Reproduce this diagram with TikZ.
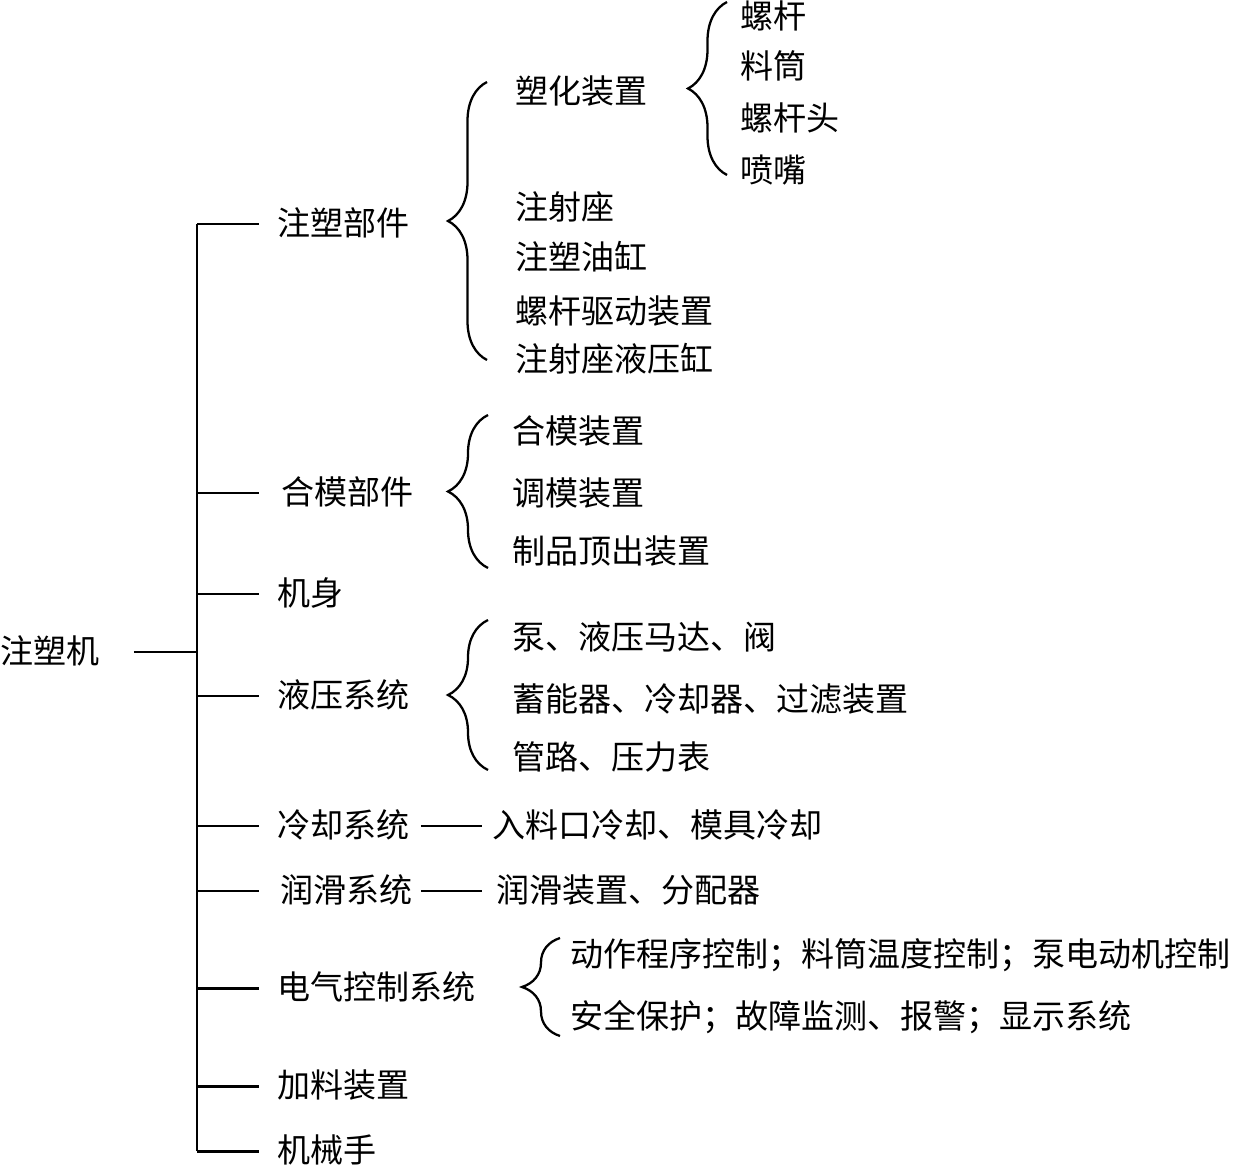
\documentclass[tikz,border=0pt]{standalone}
\usepackage{fontspec}
\setmainfont{Noto Sans CJK SC}
\usepackage{tikz}
\usetikzlibrary{
  positioning,
  decorations.pathreplacing
}

\begin{document}
\begin{tikzpicture}[
  x=0.02cm, y=-0.02cm,
  item/.style={anchor=west, inner sep=0pt, font=\fontsize{18.8}{22}\selectfont, text height=1.3em, text depth=0em},
  trunk/.style={line width=1.7pt},
  joinline/.style={line width=0.9pt},
  brc/.style={decorate, decoration={brace, amplitude=#1}, line width=1.3pt},
]
\useasboundingbox (0,0) rectangle (1233,1168);
\coordinate (tr) at (197,0);

% Wurzel
\node[item] (root) at (0,652) {注塑机};

% Hauptzweige
\node[item] (jsbj) at (277,224) {注塑部件};
\node[item] (hmbj) at (281,493) {合模部件};
\node[item] (js)   at (277,594) {机身};
\node[item] (yyxt) at (277,696) {液压系统};
\node[item] (lqxt) at (277,826) {冷却系统};
\node[item] (rhxt) at (280,891) {润滑系统};
\node[item] (dqkz) at (277,988) {电气控制系统};
\node[item] (jlzz) at (277,1086) {加料装置};
\node[item] (jxs)  at (277,1151) {机械手};

% Stamm
\draw[trunk] ([xshift=0.68cm]root.east) -- (tr |- root.east);
\draw[trunk] (tr |- jsbj.west) -- (tr |- jxs.west);
\foreach \n in {jsbj,hmbj,js,yyxt,lqxt,rhxt,dqkz,jlzz,jxs} {
  \draw[trunk] (tr |- \n.west) -- ++(62,0);
}

%注塑部件
\node[item] (shzz)   at (515,92)  {塑化装置};
\node[item] (jsz)    at (515,208) {注射座};
\node[item] (jsyg)   at (515,258) {注塑油缸};
\node[item] (lgqd)   at (515,312) {螺杆驱动装置};
\node[item] (jszyyg) at (515,360) {注射座液压缸};
\draw[brc=0.78cm] (487,360) -- (487,82);

\node[item] (lg)  at (740,17)  {螺杆};
\node[item] (lt)  at (740,67)  {料筒};
\node[item] (lgt) at (740,119) {螺杆头};
\node[item] (pz)  at (740,171) {喷嘴};
\draw[brc=0.78cm] (727,175) -- (727,2);

% 合模部件
\node[item] (hmzz) at (512,432) {合模装置};
\node[item] (tmzz) at (512,494) {调模装置};
\node[item] (zpdc) at (512,552) {制品顶出装置};
\draw[brc=0.8cm] (488,568) -- (488,415);

% 液压系统
\node[item] (yy1) at (512,638) {泵、液压马达、阀};
\node[item] (yy2) at (512,700) {蓄能器、冷却器、过滤装置};
\node[item] (yy3) at (512,758) {管路、压力表};
\draw[brc=0.8cm] (488,770) -- (488,620);

% 冷却, 润滑
\node[item] (lqnr) at (492,826) {入料口冷却、模具冷却};
\node[item] (rhnr) at (496,891) {润滑装置、分配器};
\draw[joinline] ([xshift=0.22cm]lqxt.east) -- ([xshift=-0.2cm]lqnr.west);
\draw[joinline] ([xshift=0.16cm]rhxt.east) -- ([xshift=-0.28cm]rhnr.west);

% 电气控制系统
\node[item] (dq1) at (570,955)  {动作程序控制；料筒温度控制；泵电动机控制};
\node[item] (dq2) at (570,1017) {安全保护；故障监测、报警；显示系统};
\draw[brc=0.76cm] (560,1036) -- (560,938);

\end{tikzpicture}
\end{document}
